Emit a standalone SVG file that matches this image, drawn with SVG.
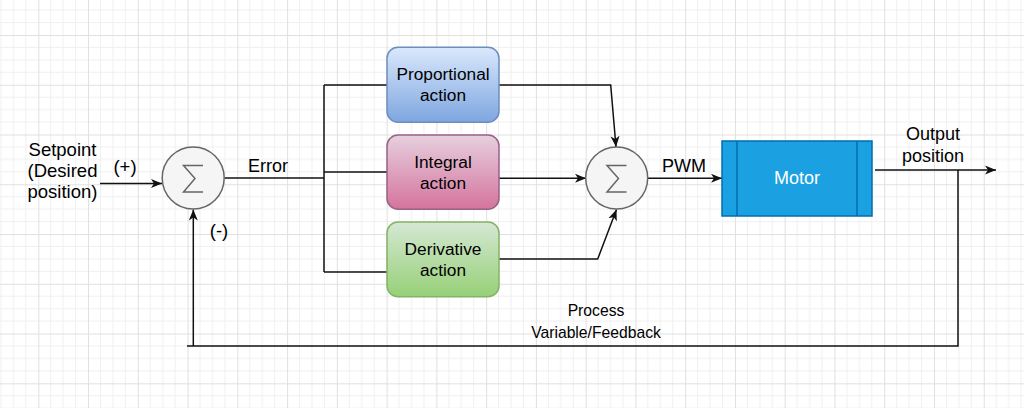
<svg xmlns="http://www.w3.org/2000/svg" width="1024" height="408" viewBox="0 0 1024 408">
<style>
text{font-family:"Liberation Sans",Arial,sans-serif;fill:#000;text-anchor:middle;font-size:18px}
.edge{fill:none;stroke:#111;stroke-width:1.5}
.sum circle{fill:#f5f5f5;stroke:#666;stroke-width:1.5}
.sum path{fill:none;stroke:#666;stroke-width:1.5}
.act{font-size:17.3px}
.big{font-size:18.5px}
</style>
<defs>
<pattern id="grid" patternUnits="userSpaceOnUse" x="38.3" y="35" width="49.76" height="49.76">
<path d="M12.44,0V49.76M24.88,0V49.76M37.32,0V49.76M0,12.44H49.76M0,24.88H49.76M0,37.32H49.76" stroke="#f0f0f0" stroke-width="1" fill="none"/>
<path d="M0.5,0V49.76M0,0.5H49.76" stroke="#e0e0e0" stroke-width="1" fill="none"/>
</pattern>
<linearGradient id="gBlue" x1="0" y1="0" x2="0" y2="1"><stop offset="0" stop-color="#dae8fc"/><stop offset="1" stop-color="#7ea6e0"/></linearGradient>
<linearGradient id="gPink" x1="0" y1="0" x2="0" y2="1"><stop offset="0" stop-color="#e6d0de"/><stop offset="1" stop-color="#d5739d"/></linearGradient>
<linearGradient id="gGreen" x1="0" y1="0" x2="0" y2="1"><stop offset="0" stop-color="#d5e8d4"/><stop offset="1" stop-color="#97d077"/></linearGradient>
<marker id="arr" markerUnits="userSpaceOnUse" markerWidth="12" markerHeight="10" refX="11" refY="5" orient="auto">
<path d="M0,0.5 L11,5 L0,9.5 L3,5 Z" fill="#111"/>
</marker>
</defs>
<rect width="1024" height="408" fill="#fff"/>
<rect width="1024" height="408" fill="url(#grid)"/>

<g id="connectors">
<path class="edge" d="M100,183.5H162" marker-end="url(#arr)"/>
<path class="edge" d="M225,178H324"/>
<path class="edge" d="M324,85V272"/>
<path class="edge" d="M324,85H387"/>
<path class="edge" d="M324,172H387"/>
<path class="edge" d="M324,272H387"/>
<path class="edge" d="M499,85H610.7L616,147" marker-end="url(#arr)"/>
<path class="edge" d="M499,178.3H586" marker-end="url(#arr)"/>
<path class="edge" d="M499,259H597.7L616.5,209.5" marker-end="url(#arr)"/>
<path class="edge" d="M648,178.3H722" marker-end="url(#arr)"/>
<path class="edge" d="M875,170H996" marker-end="url(#arr)"/>
<path class="edge" d="M958,170V346H187" stroke="#333" stroke-width="2"/>
<path class="edge" d="M193.3,346V209.5" marker-end="url(#arr)"/>
</g>

<g id="sum1" class="sum">
<circle cx="193.2" cy="178" r="31"/>
<path d="M203,165.5H183.5L195,178.5L183.5,192H203"/>
</g>
<g id="sum2" class="sum">
<circle cx="616.7" cy="178" r="31"/>
<path d="M626.5,165.5H607L618.5,178.5L607,192H626.5"/>
</g>

<g id="proportional">
<rect x="387" y="47.3" width="112" height="75" rx="11" fill="url(#gBlue)" stroke="#6c8ebf" stroke-width="1.5"/>
<text class="act" x="443" y="80">Proportional</text>
<text class="act" x="443" y="101">action</text>
</g>
<g id="integral">
<rect x="387" y="135" width="112" height="74.3" rx="11" fill="url(#gPink)" stroke="#996185" stroke-width="1.5"/>
<text class="act" x="443" y="167.5">Integral</text>
<text class="act" x="443" y="188.5">action</text>
</g>
<g id="derivative">
<rect x="387" y="222" width="112" height="74.7" rx="11" fill="url(#gGreen)" stroke="#82b366" stroke-width="1.5"/>
<text class="act" x="443" y="254.5">Derivative</text>
<text class="act" x="443" y="275.5">action</text>
</g>
<g id="motor">
<rect x="722" y="141" width="150" height="75" fill="#1ba1e2" stroke="#006eaf" stroke-width="1.5"/>
<path d="M737,141V216M857,141V216" stroke="#006eaf" stroke-width="1.5"/>
<text x="797" y="184" style="fill:#fff">Motor</text>
</g>

<g id="labels">
<text class="big" x="62.5" y="156">Setpoint</text>
<text class="big" x="62.5" y="177">(Desired</text>
<text class="big" x="62.5" y="198">position)</text>
<text class="big" x="125" y="173">(+)</text>
<text class="big" x="219" y="236.5">(-)</text>
<text x="268" y="171.7">Error</text>
<text x="684" y="171.7">PWM</text>
<text x="933" y="140">Output</text>
<text x="933" y="161.7">position</text>
<text x="596" y="315.7" style="font-size:15.7px">Process</text>
<text x="596" y="337.7" style="font-size:15.7px">Variable/Feedback</text>
</g>
</svg>
